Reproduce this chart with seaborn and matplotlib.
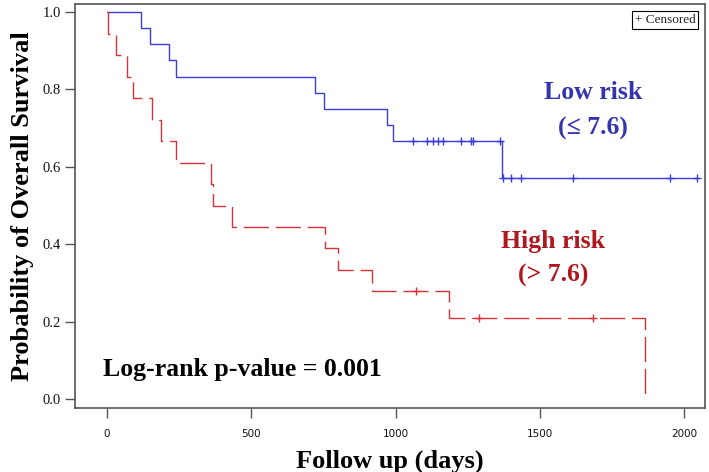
import matplotlib
matplotlib.use("Agg")
import matplotlib.pyplot as plt
import seaborn as sns

# Kaplan-Meier step values
low_time = [0, 117, 150, 216, 240, 720, 753, 969, 990, 1368, 2046]
low_surv = [1.0, 0.958, 0.917, 0.875, 0.833, 0.792, 0.750, 0.708, 0.667, 0.571, 0.571]
low_cens_time = [1062, 1108, 1131, 1148, 1163, 1226, 1260, 1269, 1362,
                 1371, 1399, 1434, 1614, 1951, 2046]
low_cens_surv = [0.667, 0.667, 0.667, 0.667, 0.667, 0.667, 0.667, 0.667, 0.667,
                 0.571, 0.571, 0.571, 0.571, 0.571, 0.571]

high_time = [0, 5, 31, 68, 91, 155, 187, 238, 360, 368, 434, 756, 802, 917, 1187, 1865]
high_surv = [1.0, 0.944, 0.889, 0.833, 0.778, 0.722, 0.667, 0.611, 0.556, 0.5,
             0.444, 0.389, 0.333, 0.278, 0.208, 0.0]
high_cens_time = [1071, 1291, 1683]
high_cens_surv = [0.278, 0.208, 0.208]

x_ticks = [0, 500, 1000, 1500, 2000]
y_ticks = [0.0, 0.2, 0.4, 0.6, 0.8, 1.0]

BLUE = "#3c3cd8"
RED = "#d8323a"
SERIF = ["Liberation Serif", "DejaVu Serif"]

sns.set_style("ticks")
plt.rcParams['font.family'] = SERIF

fig = plt.figure(figsize=(7.09, 4.72), dpi=100)
ax = fig.add_axes([0.1058, 0.1356, 0.8886, 0.8559])

sns.lineplot(x=low_time, y=low_surv, ax=ax, color=BLUE, linewidth=1.0,
             drawstyle="steps-post", estimator=None, sort=False)
sns.lineplot(x=high_time, y=high_surv, ax=ax, color=RED, linewidth=1.0,
             drawstyle="steps-post", estimator=None, sort=False,
             linestyle=(0, (18, 5)))
sns.scatterplot(x=low_cens_time, y=low_cens_surv, ax=ax, marker="+", s=40,
                color=BLUE, linewidth=1.0)
sns.scatterplot(x=high_cens_time, y=high_cens_surv, ax=ax, marker="+", s=40,
                color=RED, linewidth=1.0)

ax.set_xlim(-111, 2073)
ax.set_ylim(-0.0233, 1.0207)
ax.set_xticks(x_ticks)
ax.set_yticks(y_ticks)
ax.set_xticklabels([str(v) for v in x_ticks], family="DejaVu Sans", fontsize=7.5)
ax.set_yticklabels([f"{v:.1f}" for v in y_ticks], family=SERIF, fontsize=10.5)
ax.tick_params(axis="both", length=7, width=1, color="#555555", labelcolor="#111111", pad=3)
ax.tick_params(axis="x", pad=8)
for sp in ax.spines.values():
    sp.set_color("#555555")
    sp.set_linewidth(1.2)

ax.set_xlabel("Follow up (days)", fontsize=19, fontweight="bold", labelpad=8, color="black")
ax.set_ylabel("Probability of Overall Survival", fontsize=19, fontweight="bold",
              labelpad=6, color="black")

ax.text(1685, 0.791, "Low risk", color="#3535b0", fontsize=18.5, fontweight="bold",
        ha="center", va="center")
ax.text(1685, 0.700, "(\u2264 7.6)", color="#3535b0", fontsize=18.5, fontweight="bold",
        ha="center", va="center")
ax.text(1545, 0.406, "High risk", color="#b01820", fontsize=18.5, fontweight="bold",
        ha="center", va="center")
ax.text(1545, 0.320, "(> 7.6)", color="#b01820", fontsize=18.5, fontweight="bold",
        ha="center", va="center")
ax.text(-14, 0.059, "Log-rank p-value = 0.001", color="black", fontsize=18.5,
        fontweight="bold", ha="left", va="baseline")

ax.text(0.985, 0.975, "+ Censored", transform=ax.transAxes, fontsize=9.5,
        ha="right", va="top",
        bbox=dict(boxstyle="square,pad=0.2", facecolor="white", edgecolor="black", linewidth=0.8))

fig.savefig("out.png", dpi=100)
